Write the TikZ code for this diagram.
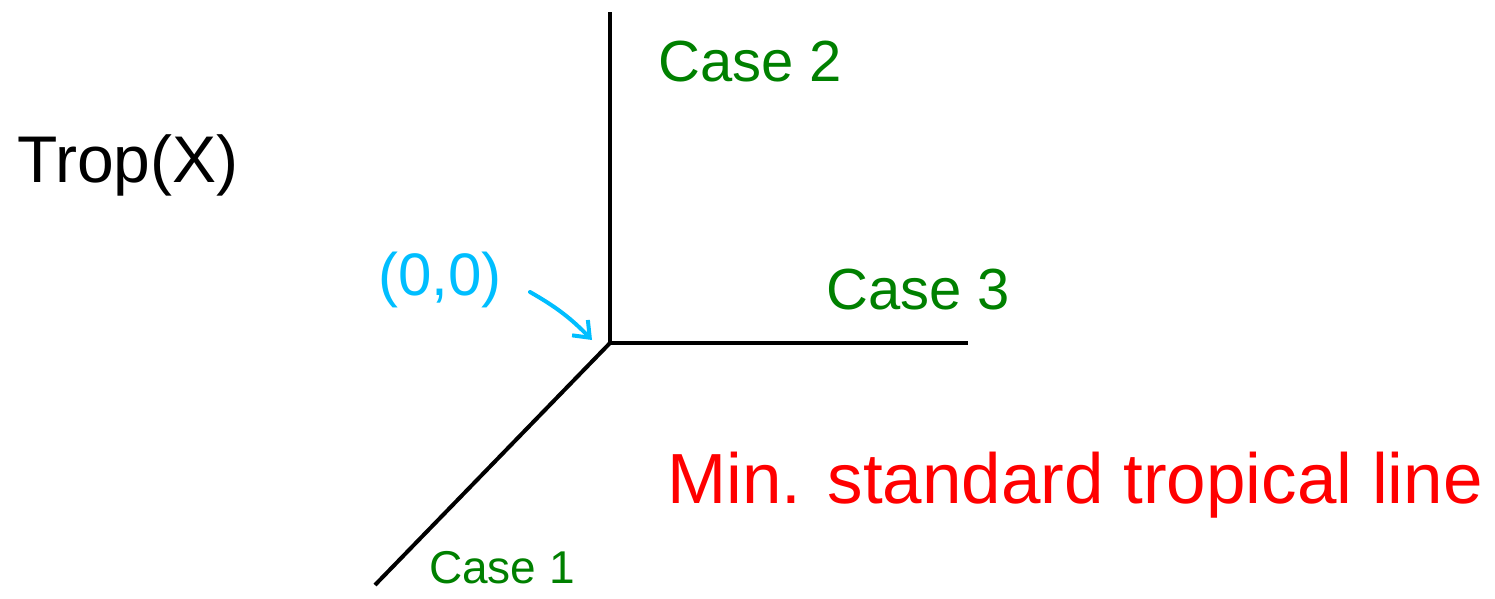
\documentclass[tikz,border=0pt]{standalone}
\usepackage{fontspec}
\setmainfont{Liberation Sans}
\usetikzlibrary{arrows.meta}
\definecolor{cgreen}{RGB}{0,128,0}
\definecolor{ccyan}{RGB}{0,190,255}
\definecolor{cred}{RGB}{255,0,0}
\begin{document}
\begin{tikzpicture}[x=1pt,y=-1pt,
  axis/.style={line width=4pt,black},
  casel/.style={text=cgreen,font=\fontsize{58}{60}\selectfont,inner sep=0pt},
  lbl/.style={inner sep=0pt}]
\useasboundingbox (0,0) rectangle (1495,598);
\coordinate (O) at (610,343);
\coordinate (top) at (610,12);
\coordinate (right) at (968,343);
\coordinate (bl) at (375,585);
\draw[axis] (top) -- (O) -- (right);
\draw[axis] (O) -- (bl);
\node[lbl,font=\fontsize{66}{70}\selectfont] (trop) at (128,165) {Trop(X)};
\node[casel] (c2) at (750,62) {Case 2};
\node[casel] (c3) at (918,290) {Case 3};
\node[casel,font=\fontsize{46}{50}\selectfont] (c1) at (502,568) {Case 1};
\node[lbl,text=ccyan,font=\fontsize{60}{64}\selectfont] (zero) at (440,280) {(0,0)};
\node[lbl,text=cred,font=\fontsize{71}{74}\selectfont] (mst) at (1075,485) {Min. standard tropical line};
\coordinate (as) at (530,292);
\coordinate (ae) at (592,340);
\draw[ccyan,line width=4pt,line cap=round,-{Straight Barb[length=14pt,width=22pt,line width=4pt]}] (as) to[bend left=8] (ae);
\end{tikzpicture}
\end{document}
